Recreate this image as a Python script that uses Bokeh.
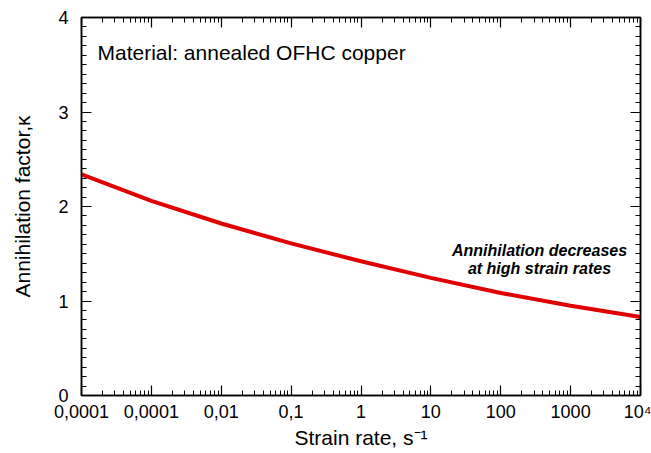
from bokeh.plotting import figure
from bokeh.models import (LogAxis, LinearAxis, FixedTicker, Label, Range1d)
from bokeh.embed import file_html
from bokeh.resources import INLINE

# ---- data ----
strain_rate = [1e-4, 1e-3, 1e-2, 1e-1, 1, 10, 100, 1000, 1e4]
kappa = [2.34, 2.06, 1.82, 1.61, 1.42, 1.245, 1.085, 0.95, 0.83]

x_ticks = [1e-4, 1e-3, 1e-2, 1e-1, 1, 10, 100, 1000, 1e4]
x_tick_labels = ["0,0001", "0,0001", "0,01", "0,1", "1", "10", "100", "1000", "10\u2074"]
y_ticks = [0, 1, 2, 3, 4]
y_tick_labels = ["0", "1", "2", "3", "4"]

x_title = "Strain rate, s\u207b\u00b9"
y_title = "Annihilation factor,\u03ba"
note_material = "Material: annealed OFHC copper"
note_line1 = "Annihilation decreases"
note_line2 = "at high strain rates"

FONT = "Liberation Sans"

p = figure(width=651, height=453, x_axis_type="log",
           x_range=Range1d(1e-4, 1e4), y_range=Range1d(0, 4),
           output_backend="svg", toolbar_location=None,
           min_border_left=81, min_border_right=11,
           min_border_top=17, min_border_bottom=58)
p.background_fill_color = "white"
p.border_fill_color = "white"
p.outline_line_color = "black"
p.outline_line_width = 1.5
p.xgrid.visible = False
p.ygrid.visible = False

minor_x = [m * 10.0 ** k for k in range(-4, 4) for m in range(2, 10)]
minor_y = [i / 10 for i in range(0, 41) if i % 10 != 0]
xt = FixedTicker(ticks=x_ticks, minor_ticks=minor_x)
yt = FixedTicker(ticks=y_ticks, minor_ticks=minor_y)


def style(ax, show_labels):
    ax.axis_line_color = "black"
    ax.axis_line_width = 1.5
    ax.major_tick_line_color = "black"
    ax.major_tick_line_width = 1.2
    ax.minor_tick_line_color = "black"
    ax.minor_tick_line_width = 1
    ax.major_tick_in = 10
    ax.major_tick_out = 0
    ax.minor_tick_in = 5
    ax.minor_tick_out = 0
    ax.major_label_text_font = FONT
    ax.major_label_text_color = "black"
    ax.axis_label_text_font = FONT
    ax.axis_label_text_font_style = "normal"
    ax.axis_label_text_font_size = "21px"
    ax.axis_label_text_color = "black"
    if show_labels:
        ax.major_label_text_font_size = "18px"
    else:
        ax.major_label_text_font_size = "1px"
        ax.major_label_text_alpha = 0
        ax.major_label_standoff = 0


xa = p.xaxis[0]
xa.ticker = xt
xa.major_label_overrides = {v: s for v, s in zip(x_ticks, x_tick_labels)}
style(xa, True)
xa.major_label_standoff = 6
xa.axis_label = x_title
xa.axis_label_standoff = 1

ya = p.yaxis[0]
ya.ticker = yt
ya.major_label_overrides = {v: s for v, s in zip(y_ticks, y_tick_labels)}
style(ya, True)
ya.major_label_standoff = 13
ya.axis_label = y_title
ya.axis_label_standoff = 21

top = LogAxis(ticker=xt)
style(top, False)
p.add_layout(top, "above")
right = LinearAxis(ticker=yt)
style(right, False)
p.add_layout(right, "right")

p.line(strain_rate, kappa, line_color="#e00000", line_width=4)

# ---- texts inside the frame (screen units relative to the frame) ----
def lab(text, x, y, size, align="left", fstyle="normal"):
    p.add_layout(Label(x=x, y=y, x_units="screen", y_units="screen", text=text,
                       text_font=FONT, text_font_size=size, text_align=align,
                       text_baseline="alphabetic", text_color="black",
                       text_font_style=fstyle))

lab(note_material, 16, 343, "21px")
lab(note_line1, 458, 145, "16px", align="center", fstyle="bold italic")
lab(note_line2, 458, 127, "16px", align="center", fstyle="bold italic")

open("out.html", "w").write(file_html(p, INLINE))
